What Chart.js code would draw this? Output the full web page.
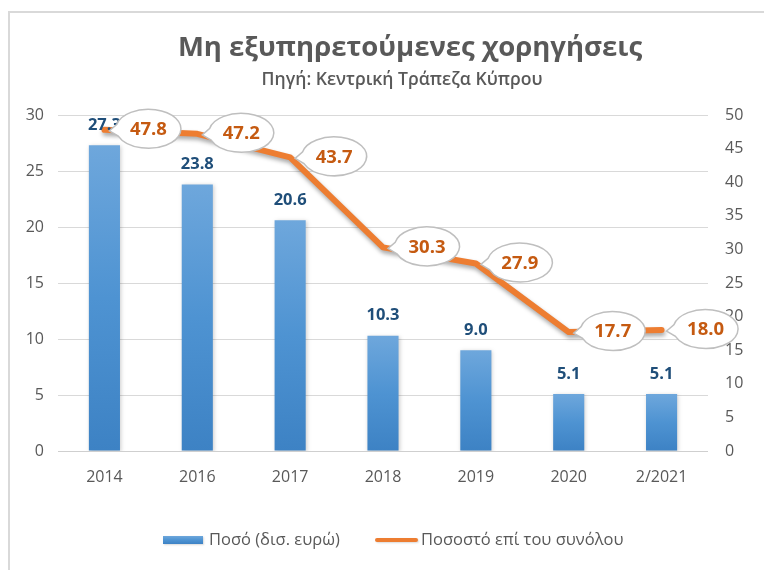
<!DOCTYPE html>
<html><head><meta charset="utf-8">
<script src="https://cdn.jsdelivr.net/npm/chart.js@4.4.1/dist/chart.umd.min.js"></script>
<style>html,body{margin:0;padding:0;background:#fff;overflow:hidden}#wrap{width:764px;height:570px;position:relative}</style>
</head><body><div id="wrap"><canvas id="c" width="764" height="570"></canvas></div>
<script>
const titleText = 'Μη εξυπηρετούμενες χορηγήσεις';
const subtitleText = 'Πηγή: Κεντρική Τράπεζα Κύπρου';
const categories = ['2014', '2016', '2017', '2018', '2019', '2020', '2/2021'];
const amounts = [27.3, 23.8, 20.6, 10.3, 9.0, 5.1, 5.1];
const shares = [47.8, 47.2, 43.7, 30.3, 27.9, 17.7, 18.0];
const seriesNames = ['Ποσό (δισ. ευρώ)', 'Ποσοστό επί του συνόλου'];
const leftAxisMax = 30, rightAxisMax = 50, axisStep = 5;

const GREY = '#595959';
function barGradient(c, top, bottom) {
  const g = c.createLinearGradient(0, top, 0, bottom);
  g.addColorStop(0, '#6EA7DC');
  g.addColorStop(0.5, '#4E93D2');
  g.addColorStop(1, '#3D82C4');
  return g;
}

const decor = {
  id: 'decor',
  beforeDraw(chart) {
    const c = chart.ctx;
    c.save();
    c.fillStyle = '#fff';
    c.fillRect(0, 0, chart.width, chart.height);
    c.strokeStyle = '#D9D9D9';
    c.lineWidth = 2;
    c.beginPath();
    c.moveTo(9, chart.height); c.lineTo(9, 12); c.lineTo(chart.width, 12);
    c.stroke();
    c.restore();
  },
  beforeDatasetDraw(chart, args) {
    const c = chart.ctx;
    c.save();
    if (args.meta.type === 'line') {
      c.shadowColor = 'rgba(0,0,0,0.35)'; c.shadowBlur = 4; c.shadowOffsetX = 1; c.shadowOffsetY = 3;
    } else {
      c.shadowColor = 'rgba(0,0,0,0.2)'; c.shadowBlur = 4; c.shadowOffsetX = 1; c.shadowOffsetY = 1;
    }
  },
  afterDatasetDraw(chart) { chart.ctx.restore(); },
  afterDatasetsDraw(chart) {
    const c = chart.ctx;
    c.save();
    const barMeta = chart.getDatasetMeta(1);
    c.font = 'bold 16.5px "Open Sans"';
    c.fillStyle = '#1F4E79';
    c.textAlign = 'center';
    c.textBaseline = 'middle';
    barMeta.data.forEach((el, i) => {
      c.fillText(amounts[i].toFixed(1), el.x, el.y - 20);
    });
    const lineMeta = chart.getDatasetMeta(0);
    lineMeta.data.forEach((pt, i) => {
      const cx = pt.x + 44, cy = pt.y - 1, rx = 32.5, ry = 19.5;
      const tx = pt.x + 5, ty = pt.y + 1;
      const th = Math.atan2((ty - cy) / ry, (tx - cx) / rx);
      c.beginPath();
      c.ellipse(cx, cy, rx, ry, 0, th + 0.3, th - 0.3 + Math.PI * 2);
      c.lineTo(tx, ty);
      c.closePath();
      c.fillStyle = '#fff';
      c.fill();
      c.strokeStyle = '#BFBFBF';
      c.lineWidth = 1.5;
      c.stroke();
      c.font = 'bold 18.5px "Open Sans"';
      c.fillStyle = '#C55A11';
      c.fillText(shares[i].toFixed(1), cx, cy + 1);
    });
    c.restore();
  },
  afterDraw(chart) {
    const c = chart.ctx;
    c.save();
    c.fillStyle = GREY;
    c.textAlign = 'center';
    c.textBaseline = 'middle';
    c.font = 'bold 27.5px "Open Sans"';
    c.fillText(titleText, 410, 48);
    c.font = '600 17.6px "Open Sans"';
    c.fillText(subtitleText, 402, 80);
    const ly = 540;
    c.shadowColor = 'rgba(0,0,0,0.15)'; c.shadowBlur = 2; c.shadowOffsetX = 1; c.shadowOffsetY = 1;
    c.fillStyle = barGradient(c, ly - 4, ly + 4);
    c.fillRect(163, ly - 4, 40, 8);
    c.strokeStyle = '#ED7D31'; c.lineWidth = 4; c.lineCap = 'round';
    c.beginPath(); c.moveTo(377, ly); c.lineTo(416, ly); c.stroke();
    c.shadowColor = 'transparent';
    c.fillStyle = GREY;
    c.textAlign = 'left';
    c.font = '16.5px "Open Sans"';
    c.fillText(seriesNames[0], 209, ly);
    c.fillText(seriesNames[1], 421, ly);
    c.restore();
  }
};

new Chart(document.getElementById('c'), {
  type: 'bar',
  data: {
    labels: categories,
    datasets: [
      {
        type: 'line', label: seriesNames[1], data: shares, yAxisID: 'y1', order: 0,
        borderColor: '#ED7D31', backgroundColor: '#ED7D31', borderWidth: 6,
        pointRadius: 0, pointHoverRadius: 0, tension: 0, borderJoinStyle: 'round', borderCapStyle: 'round'
      },
      {
        type: 'bar', label: seriesNames[0], data: amounts, yAxisID: 'y', order: 1,
        categoryPercentage: 1, barPercentage: 0.335,
        backgroundColor: (ctx) => {
          const chart = ctx.chart;
          if (!chart.chartArea || ctx.type !== 'data') return '#5B9BD5';
          const ys = chart.scales.y;
          return barGradient(chart.ctx, ys.getPixelForValue(ctx.parsed.y), ys.getPixelForValue(0));
        }
      }
    ]
  },
  options: {
    responsive: false, animation: false, devicePixelRatio: 1,
    layout: { padding: { top: 115, left: 0, right: 0, bottom: 0 } },
    plugins: { legend: { display: false }, title: { display: false }, tooltip: { enabled: false } },
    scales: {
      x: {
        grid: { display: false, drawTicks: false }, border: { display: false },
        ticks: { color: GREY, font: { family: 'Open Sans', size: 16 }, padding: 17, maxRotation: 0 },
        afterFit: (s) => { s.height = 119; }
      },
      y: {
        position: 'left', min: 0, max: leftAxisMax,
        grid: { color: (ctx) => ctx.tick && ctx.tick.value === 0 ? '#CFCFCF' : '#D9D9D9', lineWidth: 1, drawTicks: false }, border: { display: false },
        ticks: { stepSize: axisStep, color: GREY, font: { family: 'Open Sans', size: 16 }, padding: 14 },
        afterFit: (s) => { s.width = 58; }
      },
      y1: {
        position: 'right', min: 0, max: rightAxisMax,
        grid: { drawOnChartArea: false, drawTicks: false }, border: { display: false },
        ticks: { stepSize: axisStep, color: GREY, font: { family: 'Open Sans', size: 16 }, padding: 17 },
        afterFit: (s) => { s.width = 56; }
      }
    }
  },
  plugins: [decor]
});
</script></body></html>
